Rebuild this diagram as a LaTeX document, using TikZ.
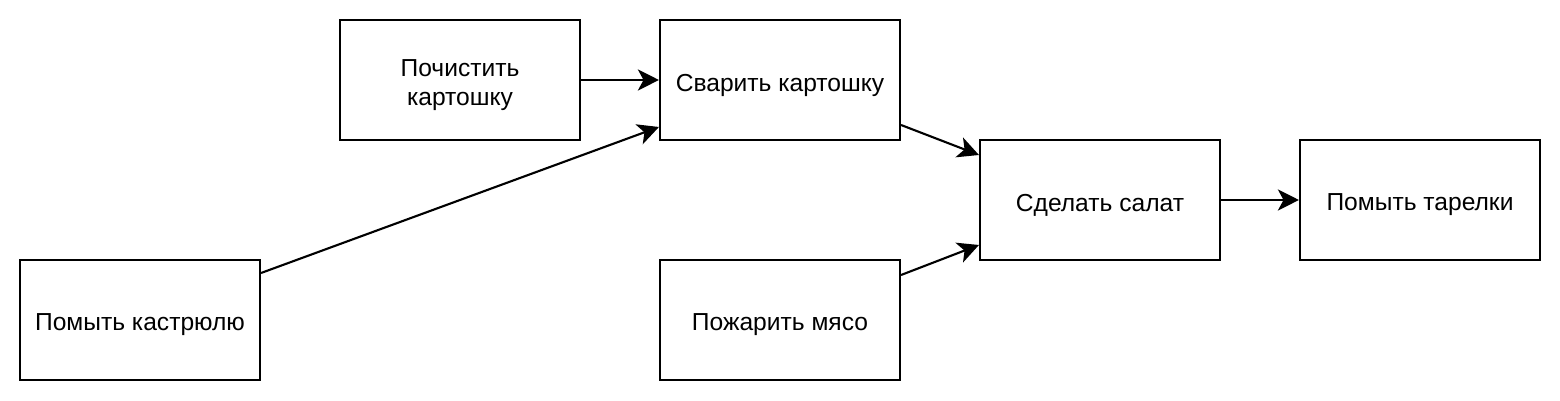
\documentclass[tikz,border=0pt]{standalone}
\usepackage{fontspec}
\setmainfont{Liberation Sans}
\usetikzlibrary{arrows.meta}
\begin{document}
\begin{tikzpicture}[x=0.02cm,y=-0.02cm,
  task/.style={draw=black, line width=1.2pt, fill=white, rectangle,
    minimum width=4.8cm, minimum height=2.4cm, inner sep=0pt},
  txt/.style={align=center, inner sep=0pt, yshift=-0.1cm,
    font=\fontsize{14pt}{16.3pt}\selectfont},
  arr/.style={line width=1.2pt, draw=black,
    -{Stealth[length=12pt, width=12pt, inset=3.2pt]}}]
\fill[white] (0,0) rectangle (1560,401);
\useasboundingbox (0,0) rectangle (1560,401);
\node[task, label={[txt]center:Почистить\\картошку}] (poch) at (460,80) {};
\node[task, label={[txt]center:Сварить картошку}] (svar) at (780,80) {};
\node[task, label={[txt]center:Помыть кастрюлю}] (kast) at (140,320) {};
\node[task, label={[txt]center:Пожарить мясо}] (mjas) at (780,320) {};
\node[task, label={[txt]center:Сделать салат}] (salat) at (1100,200) {};
\node[task, label={[txt]center:Помыть тарелки}] (tar) at (1420,200) {};
\draw[arr] (poch.east) -- (svar.west);
\draw[arr] ([yshift=0.94cm]kast.east) -- ([yshift=-0.94cm]svar.west);
\draw[arr] ([yshift=-0.9cm]svar.east) -- ([yshift=0.9cm]salat.west);
\draw[arr] ([yshift=0.9cm]mjas.east) -- ([yshift=-0.9cm]salat.west);
\draw[arr] (salat.east) -- (tar.west);
\end{tikzpicture}
\end{document}
